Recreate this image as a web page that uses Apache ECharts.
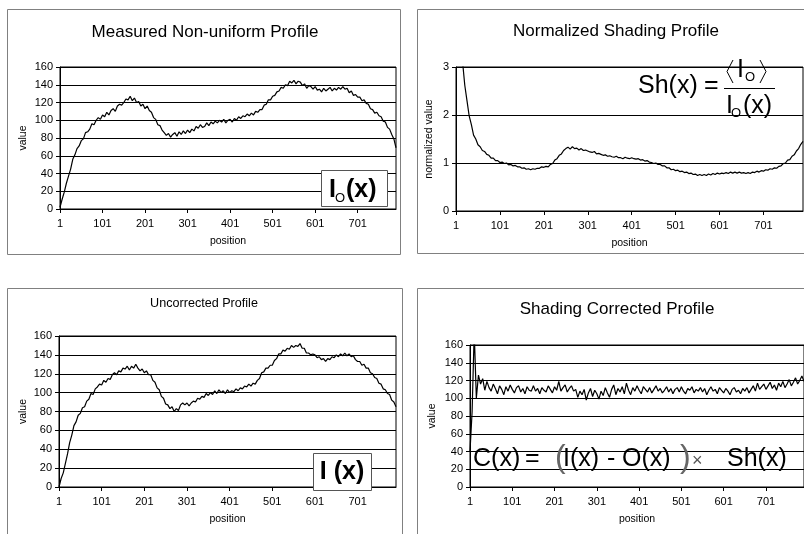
<!DOCTYPE html>
<html><head><meta charset="utf-8">
<script src="https://cdn.jsdelivr.net/npm/echarts@6/dist/echarts.min.js"></script>
<style>html,body{margin:0;padding:0;background:#fff}#c{width:804px;height:534px}</style>
</head><body><div id="c"></div><script>
// sampling step (positions 1, 6, 11, ... 791)
const step = 5;
const xTickLabels = [1, 101, 201, 301, 401, 501, 601, 701];

// Measured Non-uniform Profile  I_O(x)
const measuredProfile = [
 2, 11, 19, 29, 37, 45, 56, 61, 68, 71,
 77, 79, 86, 87, 90, 96, 95, 100, 103, 101,
 106, 104, 109, 106, 111, 113, 110, 116, 118, 117,
 120, 124, 123, 127, 122, 125, 120, 121, 116, 118,
 113, 116, 111, 109, 103, 101, 95, 94, 89, 86,
 83, 85, 81, 84, 86, 82, 87, 84, 88, 85,
 89, 86, 90, 88, 93, 91, 95, 92, 93, 97,
 94, 98, 96, 99, 97, 100, 98, 101, 97, 100,
 101, 98, 102, 100, 104, 102, 105, 104, 107, 105,
 108, 106, 110, 109, 112, 112, 117, 118, 123, 123,
 127, 128, 132, 133, 137, 136, 140, 139, 144, 142,
 145, 141, 144, 143, 139, 141, 136, 139, 138, 135,
 138, 134, 135, 132, 136, 133, 135, 137, 133, 136,
 134, 137, 135, 138, 135, 136, 131, 133, 128, 129,
 126, 126, 122, 123, 119, 118, 113, 112, 108, 109,
 105, 104, 99, 98, 92, 90, 84, 79, 69
];

// Normalized Shading Profile  Sh(x)
const shadingProfile = [
 30, 9, 4.5, 3.1, 2.62, 2.3, 1.98, 1.8, 1.58, 1.5,
 1.38, 1.34, 1.26, 1.24, 1.18, 1.16, 1.1, 1.1, 1.05, 1.05,
 1.01, 1.02, 0.99, 1.0, 0.96, 0.97, 0.94, 0.95, 0.92, 0.92,
 0.89, 0.9, 0.87, 0.88, 0.86, 0.88, 0.87, 0.89, 0.89, 0.92,
 0.91, 0.93, 0.92, 0.97, 0.99, 1.06, 1.09, 1.16, 1.19, 1.26,
 1.3, 1.33, 1.29, 1.34, 1.3, 1.31, 1.27, 1.3, 1.26, 1.27,
 1.25, 1.23, 1.22, 1.24, 1.19, 1.2, 1.18, 1.16, 1.17, 1.14,
 1.15, 1.13, 1.12, 1.14, 1.11, 1.11, 1.09, 1.12, 1.1, 1.09,
 1.11, 1.09, 1.08, 1.09, 1.06, 1.07, 1.04, 1.05, 1.02, 1.01,
 0.99, 1.0, 0.97, 0.97, 0.94, 0.94, 0.9, 0.9, 0.86, 0.87,
 0.84, 0.85, 0.82, 0.83, 0.8, 0.81, 0.78, 0.79, 0.76, 0.77,
 0.74, 0.76, 0.74, 0.76, 0.74, 0.77, 0.75, 0.78, 0.76, 0.79,
 0.77, 0.79, 0.78, 0.8, 0.78, 0.81, 0.79, 0.81, 0.79, 0.81,
 0.79, 0.8, 0.78, 0.8, 0.78, 0.81, 0.8, 0.83, 0.81, 0.84,
 0.83, 0.86, 0.85, 0.88, 0.87, 0.9, 0.89, 0.93, 0.94, 0.99,
 1.0, 1.06, 1.07, 1.14, 1.17, 1.25, 1.3, 1.39, 1.45
];

// Uncorrected Profile  I(x)
const uncorrectedProfile = [
 0, 9, 15, 25, 35, 47, 55, 65, 69, 76,
 78, 84, 85, 91, 93, 99, 98, 104, 106, 109,
 108, 113, 111, 115, 114, 119, 121, 119, 123, 122,
 126, 125, 128, 124, 128, 126, 130, 126, 123, 125,
 121, 123, 119, 119, 113, 111, 105, 103, 96, 94,
 88, 87, 83, 85, 80, 83, 81, 87, 89, 87,
 89, 86, 89, 91, 90, 94, 93, 96, 95, 99,
 97, 100, 98, 102, 99, 103, 100, 102, 99, 103,
 100, 102, 101, 104, 102, 105, 104, 107, 106, 109,
 107, 110, 109, 113, 115, 121, 122, 126, 126, 129,
 129, 134, 136, 141, 141, 145, 144, 147, 146, 150,
 148, 150, 149, 152, 147, 147, 142, 142, 140, 141,
 140, 137, 138, 135, 136, 133, 136, 135, 138, 137,
 140, 138, 141, 139, 142, 139, 141, 138, 139, 135,
 133, 133, 129, 130, 126, 126, 121, 120, 116, 115,
 110, 109, 104, 103, 99, 98, 92, 90, 85
];

// Shading Corrected Profile  C(x)
const correctedProfile = [
 40, 85, 175, 100, 126, 116, 122, 109, 119, 112,
 108, 116, 111, 105, 114, 110, 104, 113, 108, 115,
 110, 106, 112, 114, 107, 111, 105, 113, 109, 108,
 114, 108, 111, 105, 112, 109, 107, 114, 110, 106,
 113, 109, 119, 108, 112, 115, 107, 111, 114, 108,
 110, 101, 108, 104, 110, 98, 106, 111, 102, 109,
 105, 99, 108, 103, 112, 106, 101, 110, 115, 104,
 111, 107, 113, 105, 117, 109, 104, 112, 108, 114,
 109, 105, 113, 110, 107, 112, 106, 110, 114, 108,
 111, 106, 109, 113, 107, 111, 105, 110, 112, 107,
 113, 108, 105, 111, 109, 113, 106, 110, 108, 112,
 107, 111, 104, 109, 113, 108, 110, 105, 112, 109,
 106, 111, 108, 104, 110, 112, 107, 109, 105, 111,
 108, 112, 106, 110, 114, 108, 117, 110, 113, 116,
 110, 114, 118, 111, 115, 109, 117, 113, 119, 112,
 116, 121, 114, 118, 123, 116, 120, 125, 119
];

const FONT = '"Liberation Sans", Arial, Helvetica, sans-serif';
const toPairs = vals => vals.map((v, i) => [1 + i * step, v]);

const grids = [
  {left: 60, top: 67, width: 336, height: 142},
  {left: 456, top: 67, width: 347, height: 144},
  {left: 59, top: 336, width: 337, height: 151},
  {left: 470, top: 345, width: 334, height: 142}
];
const yDefs = [
  {max: 160, interval: 20, name: 'value', gap: 31},
  {max: 3, interval: 1, name: 'normalized value', gap: 21},
  {max: 160, interval: 20, name: 'value', gap: 30},
  {max: 160, interval: 20, name: 'value', gap: 32}
];
const seriesData = [measuredProfile, shadingProfile, uncorrectedProfile, correctedProfile];

const option = {
  animation: false,
  backgroundColor: '#fff',
  grid: grids.map(g => Object.assign({show: true, borderColor: '#000', borderWidth: 1, backgroundColor: 'transparent'}, g)),
  xAxis: grids.map((g, i) => ({
    type: 'value', gridIndex: i, min: 1, max: 791,
    name: 'position', nameLocation: 'middle', nameGap: 27,
    nameTextStyle: {fontSize: 10.5, color: '#000', fontFamily: FONT},
    axisLine: {show: true, lineStyle: {color: '#000', width: 1}},
    axisTick: {show: true, length: 4, customValues: xTickLabels, lineStyle: {color: '#000'}},
    axisLabel: {customValues: xTickLabels, margin: 9, fontSize: 11, color: '#000', fontFamily: FONT},
    splitLine: {show: false}
  })),
  yAxis: yDefs.map((d, i) => ({
    type: 'value', gridIndex: i, min: 0, max: d.max, interval: d.interval,
    name: d.name, nameLocation: 'middle', nameGap: d.gap,
    nameTextStyle: {fontSize: 10.5, color: '#000', fontFamily: FONT},
    axisLine: {show: true, lineStyle: {color: '#000', width: 1}},
    axisTick: {show: true, length: 4, lineStyle: {color: '#000'}},
    axisLabel: {margin: 7, fontSize: 11, color: '#000', fontFamily: FONT},
    splitLine: {show: true, lineStyle: {color: '#000', width: 1}}
  })),
  series: seriesData.map((d, i) => ({
    type: 'line', xAxisIndex: i, yAxisIndex: i, data: toPairs(d),
    showSymbol: false, symbol: 'none', clip: true,
    lineStyle: {color: '#000', width: 1.2}
  })),
  graphic: [
    // panel frames
    {type: 'rect', shape: {x: 7.5, y: 9.5, width: 393, height: 245}, style: {fill: 'none', stroke: '#808080', lineWidth: 1}, z: 1},
    {type: 'rect', shape: {x: 417.5, y: 9.5, width: 400, height: 244}, style: {fill: 'none', stroke: '#808080', lineWidth: 1}, z: 1},
    {type: 'rect', shape: {x: 7.5, y: 288.5, width: 395, height: 300}, style: {fill: 'none', stroke: '#808080', lineWidth: 1}, z: 1},
    {type: 'rect', shape: {x: 417.5, y: 288.5, width: 400, height: 300}, style: {fill: 'none', stroke: '#808080', lineWidth: 1}, z: 1},
    // titles
    {type: 'text', x: 205, y: 32, style: {text: 'Measured Non-uniform Profile', font: '17px ' + FONT, fill: '#000', align: 'center', verticalAlign: 'middle'}},
    {type: 'text', x: 616, y: 31, style: {text: 'Normalized Shading Profile', font: '17px ' + FONT, fill: '#000', align: 'center', verticalAlign: 'middle'}},
    {type: 'text', x: 204, y: 304, style: {text: 'Uncorrected Profile', font: '12.6px ' + FONT, fill: '#000', align: 'center', verticalAlign: 'middle'}},
    {type: 'text', x: 617, y: 309, style: {text: 'Shading Corrected Profile', font: '17px ' + FONT, fill: '#000', align: 'center', verticalAlign: 'middle'}},
    // I_O(x) box
    {type: 'rect', z: 100, shape: {x: 321.5, y: 170.5, width: 66, height: 36}, style: {fill: '#fff', stroke: '#555', lineWidth: 1}},
    {type: 'text', z: 101, x: 329, y: 190, style: {text: 'I', font: 'bold 25px ' + FONT, fill: '#000', align: 'left', verticalAlign: 'middle'}},
    {type: 'text', z: 101, x: 335, y: 198, style: {text: 'O', font: '13px ' + FONT, fill: '#000', align: 'left', verticalAlign: 'middle'}},
    {type: 'text', z: 101, x: 346, y: 190, style: {text: '(x)', font: 'bold 25px ' + FONT, fill: '#000', align: 'left', verticalAlign: 'middle'}},
    // I(x) box
    {type: 'rect', z: 100, shape: {x: 313.5, y: 453.5, width: 58, height: 37}, style: {fill: '#fff', stroke: '#555', lineWidth: 1}},
    {type: 'text', z: 101, x: 342, y: 472, style: {text: 'I (x)', font: 'bold 25px ' + FONT, fill: '#000', align: 'center', verticalAlign: 'middle'}},
    // Sh(x) formula
    {type: 'text', z: 101, x: 638, y: 86, style: {text: 'Sh(x)', font: '25px ' + FONT, fill: '#000', align: 'left', verticalAlign: 'middle'}},
    {type: 'text', z: 101, x: 704, y: 86, style: {text: '=', font: '25px ' + FONT, fill: '#000', align: 'left', verticalAlign: 'middle'}},
    {type: 'line', z: 101, shape: {x1: 724, y1: 88.5, x2: 775, y2: 88.5}, style: {stroke: '#000', lineWidth: 1}},
    {type: 'polyline', z: 101, shape: {points: [[733, 60], [727, 71.5], [733, 83]]}, style: {stroke: '#000', lineWidth: 1, fill: 'none'}},
    {type: 'polyline', z: 101, shape: {points: [[760, 60], [766, 71.5], [760, 83]]}, style: {stroke: '#000', lineWidth: 1, fill: 'none'}},
    {type: 'text', z: 101, x: 737, y: 70, style: {text: 'I', font: '25px ' + FONT, fill: '#000', align: 'left', verticalAlign: 'middle'}},
    {type: 'text', z: 101, x: 745, y: 77, style: {text: 'O', font: '13px ' + FONT, fill: '#000', align: 'left', verticalAlign: 'middle'}},
    {type: 'text', z: 101, x: 726, y: 106, style: {text: 'I', font: '25px ' + FONT, fill: '#000', align: 'left', verticalAlign: 'middle'}},
    {type: 'text', z: 101, x: 731, y: 113, style: {text: 'O', font: '13px ' + FONT, fill: '#000', align: 'left', verticalAlign: 'middle'}},
    {type: 'text', z: 101, x: 743, y: 106, style: {text: '(x)', font: '25px ' + FONT, fill: '#000', align: 'left', verticalAlign: 'middle'}},
    // C(x) formula
    {type: 'text', z: 101, x: 473, y: 459, style: {text: 'C(x)', font: '25px ' + FONT, fill: '#000', align: 'left', verticalAlign: 'middle'}},
    {type: 'text', z: 101, x: 525, y: 459, style: {text: '=', font: '25px ' + FONT, fill: '#000', align: 'left', verticalAlign: 'middle'}},
    {type: 'text', z: 101, x: 555, y: 458, style: {text: '(', font: '32px ' + FONT, fill: '#666', align: 'left', verticalAlign: 'middle'}},
    {type: 'text', z: 101, x: 563, y: 459, style: {text: 'I(x)', font: '25px ' + FONT, fill: '#000', align: 'left', verticalAlign: 'middle'}},
    {type: 'text', z: 101, x: 607, y: 459, style: {text: '-', font: '25px ' + FONT, fill: '#000', align: 'left', verticalAlign: 'middle'}},
    {type: 'text', z: 101, x: 622, y: 459, style: {text: 'O(x)', font: '25px ' + FONT, fill: '#000', align: 'left', verticalAlign: 'middle'}},
    {type: 'text', z: 101, x: 680, y: 458, style: {text: ')', font: '32px ' + FONT, fill: '#666', align: 'left', verticalAlign: 'middle'}},
    {type: 'text', z: 101, x: 692, y: 461, style: {text: '\u00d7', font: '18px ' + FONT, fill: '#555', align: 'left', verticalAlign: 'middle'}},
    {type: 'text', z: 101, x: 727, y: 459, style: {text: 'Sh(x)', font: '25px ' + FONT, fill: '#000', align: 'left', verticalAlign: 'middle'}}
  ]
};

const chart = echarts.init(document.getElementById('c'), null, {renderer: 'canvas'});
chart.setOption(option);
</script></body></html>
